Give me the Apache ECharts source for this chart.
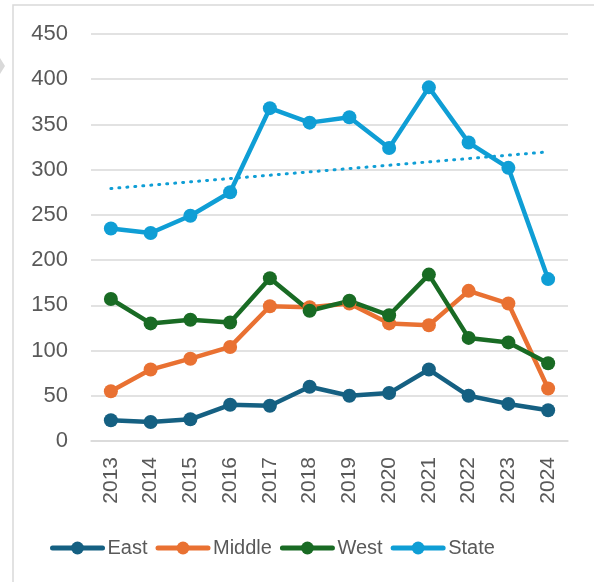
<!DOCTYPE html>
<html>
<head>
<meta charset="utf-8">
<script src="https://cdn.jsdelivr.net/npm/echarts@6/dist/echarts.min.js"></script>
<style>
  html, body { margin: 0; padding: 0; background: #fff; }
  #app { width: 594px; height: 582px; }
</style>
</head>
<body>
<div id="app"></div>
<script>
var years = ['2013', '2014', '2015', '2016', '2017', '2018', '2019', '2020', '2021', '2022', '2023', '2024'];
var east = [23, 21, 24, 40, 39, 60, 50, 53, 79, 50, 41, 34];
var middle = [55, 79, 91, 104, 149, 148, 152, 130, 128, 166, 152, 58];
var west = [157, 130, 134, 131, 180, 144, 155, 139, 184, 114, 109, 86];
var state = [235, 230, 249, 275, 368, 352, 358, 324, 391, 330, 302, 179];
var yTicks = [0, 50, 100, 150, 200, 250, 300, 350, 400, 450];

// linear trendline for State (least squares, like Excel)
function trend(vals) {
    var n = vals.length, mx = (n - 1) / 2, my = 0;
    vals.forEach(function (v) { my += v; });
    my /= n;
    var sxy = 0, sxx = 0;
    vals.forEach(function (v, i) {
        sxy += (i - mx) * (v - my);
        sxx += (i - mx) * (i - mx);
    });
    var k = sxy / sxx;
    return vals.map(function (v, i) { return my + k * (i - mx); });
}

var txt = '#595959';
var fontFam = '"Liberation Sans", Arial, sans-serif';

function lineSeries(name, data, color) {
    return {
        name: name,
        type: 'line',
        data: data,
        symbol: 'circle',
        symbolSize: 14,
        lineStyle: { width: 4.5, color: color },
        itemStyle: { color: color },
        emphasis: { disabled: true }
    };
}

var chart = echarts.init(document.getElementById('app'));
chart.setOption({
    animation: false,
    color: ['#156082', '#E97132', '#196B24', '#0F9ED5'],
    graphic: [
        {
            type: 'rect',
            shape: { x: 13, y: 5, width: 700, height: 700 },
            style: { fill: 'none', stroke: '#d9d9d9', lineWidth: 1.5 },
            silent: true
        },
        {
            type: 'polygon',
            shape: { points: [[0, 58], [5, 66], [0, 74]] },
            style: { fill: '#d9d9d9' },
            silent: true
        }
    ],
    grid: { left: 91, right: 26, top: 34, bottom: 141 },
    legend: {
        data: ['East', 'Middle', 'West', 'State'],
        left: 50,
        top: 538,
        padding: 0,
        itemWidth: 50,
        itemHeight: 16,
        itemGap: 8,
        lineStyle: { width: 5, cap: 'round' },
        textStyle: { color: txt, fontSize: 20, fontFamily: fontFam }
    },
    xAxis: {
        type: 'category',
        data: years,
        boundaryGap: true,
        axisLine: { show: true, lineStyle: { color: '#d9d9d9', width: 1.5 } },
        axisTick: { show: false },
        axisLabel: { rotate: 90, margin: 16, color: txt, fontSize: 21, fontFamily: fontFam }
    },
    yAxis: {
        type: 'value',
        min: yTicks[0],
        max: yTicks[yTicks.length - 1],
        interval: 50,
        axisLine: { show: false },
        axisTick: { show: false },
        axisLabel: { margin: 23, color: txt, fontSize: 22, fontFamily: fontFam },
        splitLine: { lineStyle: { color: '#d9d9d9', width: 1.5 } }
    },
    series: [
        lineSeries('East', east, '#156082'),
        lineSeries('Middle', middle, '#E97132'),
        lineSeries('West', west, '#196B24'),
        {
            name: 'State trend',
            type: 'line',
            data: trend(state),
            symbol: 'none',
            lineStyle: { width: 3, color: '#0F9ED5', type: [1, 7], cap: 'round' },
            emphasis: { disabled: true },
            z: 1
        },
        lineSeries('State', state, '#0F9ED5')
    ]
});
</script>
</body>
</html>
